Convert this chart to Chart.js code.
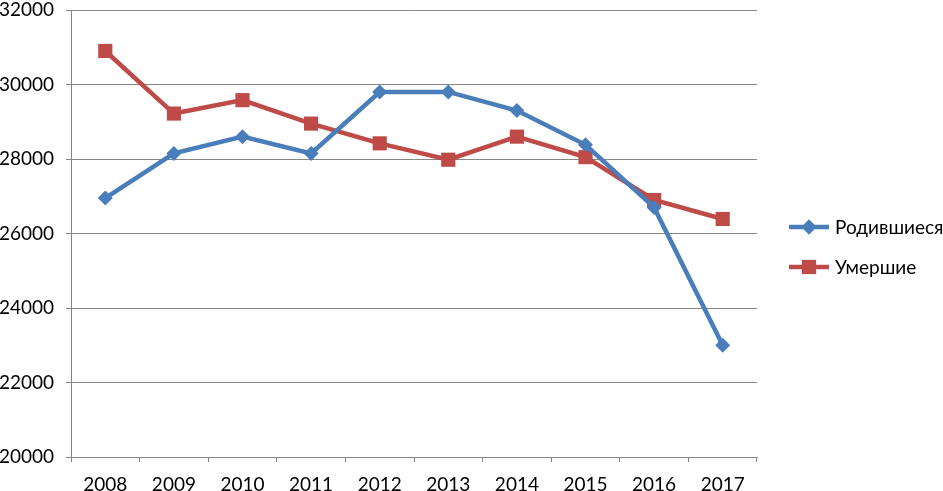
<!DOCTYPE html>
<html>
<head>
<meta charset="utf-8">
<script src="https://cdn.jsdelivr.net/npm/chart.js@4"></script>
<style>
  html, body { margin: 0; padding: 0; background: #fff; }
  #wrap { width: 943px; height: 491px; }
</style>
</head>
<body>
<div id="wrap"><canvas id="chart" width="943" height="491"></canvas></div>
<script>
const years = ['2008', '2009', '2010', '2011', '2012', '2013', '2014', '2015', '2016', '2017'];
const born = [26950, 28150, 28600, 28150, 29800, 29800, 29300, 28380, 26700, 23000];
const died = [30900, 29220, 29580, 28950, 28420, 27980, 28600, 28050, 26900, 26390];
const yTicks = [20000, 22000, 24000, 26000, 28000, 30000, 32000];

const blue = '#4a7ebb';
const red = '#be4b48';
const axisGray = '#868686';
const fontFamily = 'Lato, "Open Sans", sans-serif';

// legend drawn to the right: line with marker, like the office chart
const sideLegend = {
    id: 'sideLegend',
    afterDraw(chart) {
        const ctx = chart.ctx;
        const x0 = 789, x1 = 829;
        const rows = [227, 267];
        chart.data.datasets.forEach((ds, i) => {
            const y = rows[i];
            ctx.save();
            ctx.strokeStyle = ds.borderColor;
            ctx.lineWidth = ds.borderWidth;
            ctx.beginPath();
            ctx.moveTo(x0, y);
            ctx.lineTo(x1, y);
            ctx.stroke();
            ctx.fillStyle = ds.borderColor;
            Chart.helpers.drawPoint(ctx, {
                pointStyle: ds.pointStyle,
                radius: ds.pointRadius,
                borderWidth: 0
            }, (x0 + x1) / 2, y);
            ctx.fill();
            ctx.fillStyle = '#000';
            ctx.font = '19px ' + fontFamily;
            ctx.textBaseline = 'middle';
            ctx.fillText(ds.label, x1 + 6, y + 1);
            ctx.restore();
        });
    }
};

new Chart(document.getElementById('chart'), {
    type: 'line',
    data: {
        labels: years,
        datasets: [{
            label: 'Родившиеся',
            data: born,
            borderColor: blue,
            backgroundColor: blue,
            borderWidth: 4.5,
            pointStyle: 'rectRot',
            pointRadius: 7.5,
            pointBorderWidth: 0,
            pointBackgroundColor: blue,
            tension: 0
        }, {
            label: 'Умершие',
            data: died,
            borderColor: red,
            backgroundColor: red,
            borderWidth: 4.5,
            pointStyle: 'rect',
            pointRadius: 10,
            pointBorderWidth: 0,
            pointBackgroundColor: red,
            tension: 0
        }]
    },
    options: {
        responsive: false,
        animation: false,
        layout: { padding: { top: 8, right: 186, left: 0, bottom: 0 } },
        plugins: {
            legend: { display: false },
            tooltip: { enabled: false }
        },
        scales: {
            x: {
                offset: true,
                grid: {
                    drawOnChartArea: false,
                    drawTicks: true,
                    tickLength: 5,
                    color: axisGray,
                    offset: true
                },
                border: { color: axisGray, width: 1 },
                ticks: {
                    color: '#000',
                    padding: 11,
                    font: { family: fontFamily, size: 19 },
                    maxRotation: 0
                },
                afterFit: s => { s.height = 34; }
            },
            y: {
                min: 20000,
                max: 32000,
                afterBuildTicks: s => { s.ticks = yTicks.map(v => ({ value: v })); },
                grid: {
                    color: axisGray,
                    tickLength: 5,
                    lineWidth: 1
                },
                border: { color: axisGray, width: 1 },
                ticks: {
                    color: '#000',
                    padding: 12,
                    font: { family: fontFamily, size: 19 },
                    callback: v => String(v)
                },
                afterFit: s => {
                    s.width = 71;
                    s.paddingTop = 0;
                    s.paddingBottom = 0;
                }
            }
        }
    },
    plugins: [sideLegend]
});
</script>
</body>
</html>
